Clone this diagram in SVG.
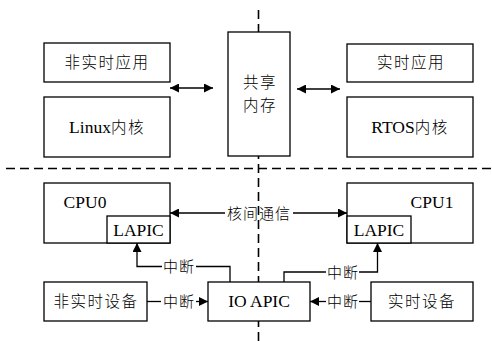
<svg xmlns="http://www.w3.org/2000/svg" width="492" height="341" viewBox="0 0 492 341">
<defs>
<style>
.box{fill:#fff;stroke:#000;stroke-width:1.3}
.dash{fill:none;stroke:#000;stroke-width:1.6;stroke-dasharray:9 5}
.ln{fill:none;stroke:#000;stroke-width:1.3}
text{font-family:"Liberation Serif","Noto Sans CJK SC",serif;font-size:17.5px;fill:#000;text-anchor:middle}
.cjk{font-size:15.5px;letter-spacing:1.5px;font-weight:300}
.lbl{font-size:15px;letter-spacing:1px;font-weight:300}
</style>
<marker id="ah" viewBox="0 0 10 10" refX="10" refY="5" markerWidth="10" markerHeight="9" markerUnits="userSpaceOnUse" orient="auto-start-reverse">
<path d="M0,0 L10,5 L0,10 z" fill="#000"/>
</marker>
</defs>
<g id="dividers">
<line class="dash" x1="258.5" y1="10" x2="258.5" y2="341"/>
<line class="dash" x1="6" y1="168.5" x2="492" y2="168.5"/>
</g>
<g id="app-nonrt"><rect class="box" x="44" y="43" width="126" height="39"/><text class="cjk" x="107" y="68">非实时应用</text></g>
<g id="linux-kernel"><rect class="box" x="44" y="97" width="126" height="60"/><text x="107" y="133">Linux<tspan class="cjk">内核</tspan></text></g>
<g id="shared-mem"><rect class="box" x="228" y="32" width="62" height="124"/><text class="cjk" x="260" y="88">共享</text><text class="cjk" x="260" y="111">内存</text></g>
<g id="app-rt"><rect class="box" x="347" y="44" width="126" height="38"/><text class="cjk" x="411" y="68">实时应用</text></g>
<g id="rtos-kernel"><rect class="box" x="347" y="97" width="126" height="60"/><text x="410" y="133">RTOS<tspan class="cjk">内核</tspan></text></g>
<g id="cpu0"><rect class="box" x="44" y="183" width="126" height="60"/><text x="85" y="208">CPU0</text>
<g id="lapic0"><rect class="box" x="107" y="216" width="63" height="27"/><text x="138.5" y="236">LAPIC</text></g></g>
<g id="cpu1"><rect class="box" x="347" y="183" width="126" height="60"/><text x="432" y="208">CPU1</text>
<g id="lapic1"><rect class="box" x="347" y="216" width="64" height="27"/><text x="379" y="236">LAPIC</text></g></g>
<g id="dev-nonrt"><rect class="box" x="44" y="282" width="103" height="39"/><text class="cjk" x="96" y="307">非实时设备</text></g>
<g id="ioapic"><rect class="box" x="208" y="282" width="102" height="39"/><text x="259" y="307">IO APIC</text></g>
<g id="dev-rt"><rect class="box" x="371" y="282" width="102" height="39"/><text class="cjk" x="422" y="307">实时设备</text></g>
<g id="connectors">
<line class="ln" x1="170" y1="88" x2="213" y2="88" marker-start="url(#ah)" marker-end="url(#ah)"/>
<line class="ln" x1="297" y1="89" x2="340" y2="89" marker-start="url(#ah)" marker-end="url(#ah)"/>
<line class="ln" x1="170" y1="213" x2="225" y2="213" marker-start="url(#ah)"/>
<line class="ln" x1="293" y1="213" x2="347" y2="213" marker-end="url(#ah)"/>
<text class="lbl" x="259" y="218.5">核间通信</text>
<polyline class="ln" points="162,266.5 137,266.5 137,243" marker-end="url(#ah)"/>
<polyline class="ln" points="196,266.5 230,266.5 230,282"/>
<text class="lbl" x="179" y="272">中断</text>
<polyline class="ln" points="284,282 284,272 326,272"/>
<polyline class="ln" points="359,272 377.5,272 377.5,243" marker-end="url(#ah)"/>
<text class="lbl" x="343" y="277.5">中断</text>
<line class="ln" x1="147" y1="301.5" x2="161" y2="301.5"/>
<line class="ln" x1="196" y1="301.5" x2="208" y2="301.5" marker-end="url(#ah)"/>
<text class="lbl" x="179" y="307">中断</text>
<line class="ln" x1="326" y1="301.5" x2="310" y2="301.5" marker-end="url(#ah)"/>
<line class="ln" x1="359" y1="301.5" x2="371" y2="301.5"/>
<text class="lbl" x="343" y="307">中断</text>
</g>
</svg>
